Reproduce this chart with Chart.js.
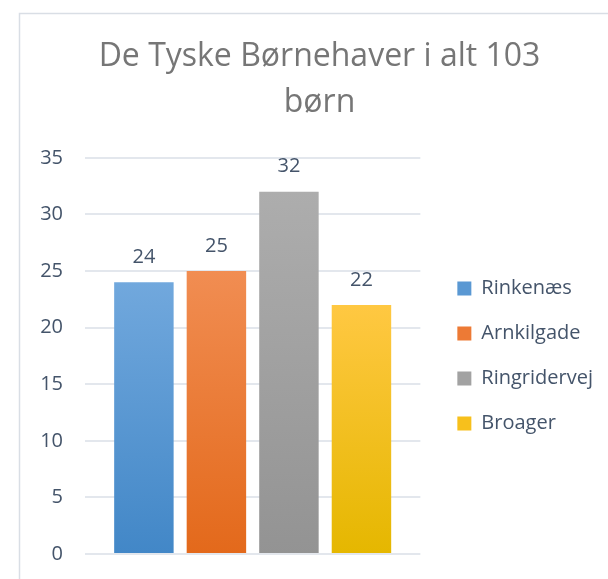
<!DOCTYPE html>
<html>
<head>
<meta charset="utf-8">
<script src="https://cdn.jsdelivr.net/npm/chart.js@4/dist/chart.umd.min.js"></script>
<style>
  html, body { margin: 0; padding: 0; background: #ffffff; }
  #wrap { position: relative; width: 608px; height: 579px; }
</style>
</head>
<body>
<div id="wrap"><canvas id="c" width="608" height="579"></canvas></div>
<script>
const titleLines = ['De Tyske Børnehaver i alt 103', 'børn'];
const categories = ['Rinkenæs', 'Arnkilgade', 'Ringridervej', 'Broager'];
const values = [24, 25, 32, 22];
const yTickValues = [0, 5, 10, 15, 20, 25, 30, 35];

const topColors = ['#71a8dd', '#f18d52', '#adadad', '#ffc842'];
const bottomColors = ['#4287c7', '#e3691b', '#939393', '#e5b700'];
const midColors = ['#5a98d3', '#ed7a35', '#a2a2a2', '#f7c01c'];
const textColor = '#44546a';
const fontFamily = '"Open Sans", "Noto Sans", sans-serif';

function gradientFor(i) {
  return function (c) {
    const chart = c.chart;
    if (!chart.chartArea) return midColors[i];
    const ys = chart.scales.y;
    const top = ys.getPixelForValue(values[i]);
    const bot = ys.getPixelForValue(0);
    const g = chart.ctx.createLinearGradient(0, top, 0, bot);
    g.addColorStop(0, topColors[i]);
    g.addColorStop(1, bottomColors[i]);
    return g;
  };
}

const frame = {
  id: 'frame',
  beforeDraw(chart) {
    const ctx = chart.ctx;
    ctx.save();
    ctx.strokeStyle = '#d9dee5';
    ctx.lineWidth = 1.5;
    ctx.strokeRect(19.5, 13.5, 700, 700);
    ctx.restore();
  }
};

// let the right-hand legend take its natural width
const legendWidth = {
  id: 'legendWidth',
  beforeLayout(chart) {
    const lg = chart.legend;
    if (lg && !lg._wide) {
      const orig = lg.update;
      lg.update = function (maxW, maxH, margins) {
        return orig.call(this, 220, maxH, margins);
      };
      lg._wide = true;
    }
  }
};

const valueLabels = {
  id: 'valueLabels',
  afterDatasetsDraw(chart) {
    const ctx = chart.ctx;
    ctx.save();
    ctx.font = '20px ' + fontFamily;
    ctx.fillStyle = textColor;
    ctx.textAlign = 'center';
    ctx.textBaseline = 'middle';
    chart.data.datasets.forEach((ds, i) => {
      const meta = chart.getDatasetMeta(i);
      meta.data.forEach((el, j) => {
        ctx.fillText(String(ds.data[j]), el.x, el.y - 25);
      });
    });
    ctx.restore();
  }
};

new Chart(document.getElementById('c'), {
  type: 'bar',
  data: {
    labels: [''],
    datasets: categories.map((name, i) => ({
      label: name,
      data: [values[i]],
      backgroundColor: gradientFor(i),
      borderWidth: 0,
      categoryPercentage: 0.865,
      barPercentage: 0.82
    }))
  },
  options: {
    responsive: false,
    animation: false,
    devicePixelRatio: 1,
    layout: { padding: { left: 36, right: 5, top: 0, bottom: 25 } },
    plugins: {
      title: {
        display: true,
        text: titleLines,
        color: '#767676',
        font: { family: fontFamily, size: 32, weight: 'normal', lineHeight: 1.435 },
        padding: { top: 34, bottom: 32 }
      },
      legend: {
        position: 'right',
        fullSize: false,
        labels: {
          boxWidth: 14,
          boxHeight: 14,
          padding: 25,
          color: textColor,
          font: { family: fontFamily, size: 20 },
          generateLabels(chart) {
            return chart.data.datasets.map((ds, i) => ({
              text: ds.label,
              fillStyle: midColors[i],
              strokeStyle: midColors[i],
              lineWidth: 0,
              hidden: false,
              datasetIndex: i,
              fontColor: textColor
            }));
          }
        }
      },
      tooltip: { enabled: false }
    },
    scales: {
      x: { display: false },
      y: {
        min: 0,
        max: 35,
        afterBuildTicks(scale) { scale.ticks = yTickValues.map(v => ({ value: v })); },
        afterFit(scale) { scale.width = 49; },
        grid: { color: '#e3e7ed', lineWidth: 2, drawTicks: true, tickLength: 12, tickColor: 'rgba(0,0,0,0)' },
        border: { display: false },
        ticks: { color: textColor, padding: 10, font: { family: fontFamily, size: 20 } }
      },
      y2: {
        position: 'right',
        min: 0,
        max: 35,
        grid: { display: false },
        border: { display: false },
        ticks: { display: false },
        afterFit(scale) { scale.width = 12; }
      }
    }
  },
  plugins: [frame, legendWidth, valueLabels]
});
</script>
</body>
</html>
